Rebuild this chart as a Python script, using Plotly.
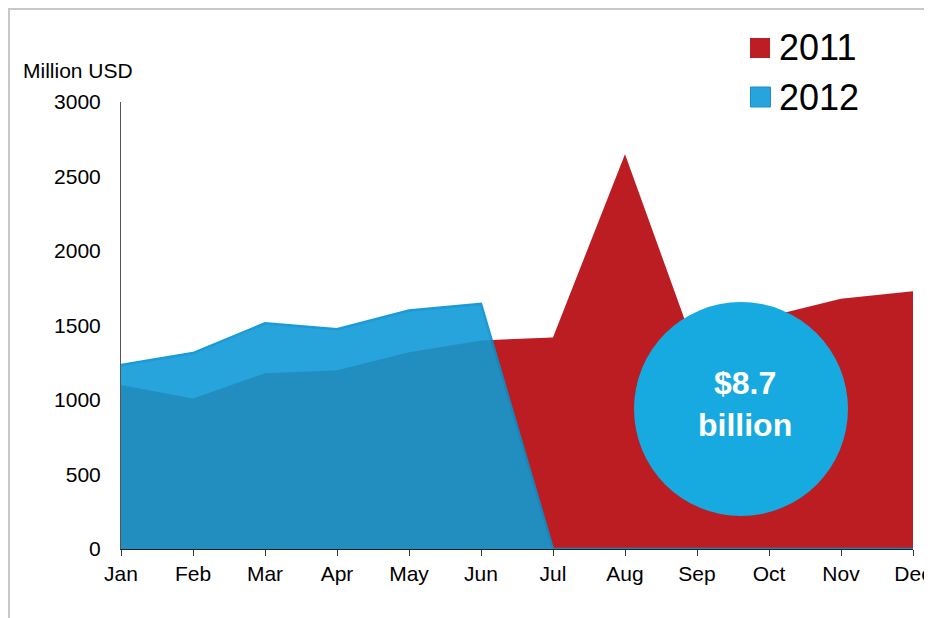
import plotly.graph_objects as go

months = ["Jan", "Feb", "Mar", "Apr", "May", "Jun", "Jul", "Aug", "Sep", "Oct", "Nov", "Dec"]
series_names = ["2011", "2012"]
values_2011 = [1100, 1010, 1180, 1200, 1320, 1400, 1420, 2650, 1310, 1560, 1680, 1730]
values_2012 = [1235, 1315, 1515, 1475, 1600, 1645, 0, 0, 0, 0, 0, 0]
y_ticks = [0, 500, 1000, 1500, 2000, 2500, 3000]
callout_text = "$8.7<br>billion"
y_title = "Million USD"

RED_BASE = "#d72228"      # darkened by overlay to #bb1e23
RED = "#bb1e23"
BLUE = "#28a4dd"
BLUE_LINE = "#1b9ad6"
CIRCLE = "#17aae0"
FONT = "Liberation Sans, Arial, sans-serif"

fig = go.Figure()

# 2011 area
fig.add_trace(go.Scatter(
    x=months, y=values_2011, mode="lines", fill="tozeroy",
    fillcolor=RED_BASE, line=dict(width=0, color=RED_BASE),
    name=series_names[0], showlegend=False, hoverinfo="skip"))

# 2012 area
fig.add_trace(go.Scatter(
    x=months, y=values_2012, mode="lines", fill="tozeroy",
    fillcolor=BLUE, line=dict(width=2.5, color=BLUE_LINE),
    name=series_names[1], showlegend=False, hoverinfo="skip"))

# shading of the 2011 area (darkens overlap with 2012)
fig.add_trace(go.Scatter(
    x=months, y=values_2011, mode="lines", fill="tozeroy",
    fillcolor="rgba(0,0,0,0.13)", line=dict(width=0, color="rgba(0,0,0,0)"),
    showlegend=False, hoverinfo="skip"))

# page body has an 8px margin: design in page pixels, shift by OFF
OFF = 8
W, H = 932 - OFF, 618 - OFF
L = 121 - OFF
T = 102 - OFF
R = W - (913 - OFF)
B = H - (549 - OFF)
PW, PH = W - L - R, H - T - B

def px(x):
    return (x - OFF - L) / PW

def py(y):
    return (H - B - (y - OFF)) / PH

shapes = [
    # outer border
    dict(type="rect", xref="paper", yref="paper",
         x0=px(9), x1=px(929), y0=py(640), y1=py(9),
         line=dict(color="#c8c8c8", width=2), fillcolor="rgba(0,0,0,0)", layer="below"),
    # legend squares
    dict(type="rect", xref="paper", yref="paper",
         x0=px(750), x1=px(770), y0=py(58), y1=py(38),
         line=dict(width=0), fillcolor=RED, layer="above"),
    dict(type="rect", xref="paper", yref="paper",
         x0=px(750.5), x1=px(770.5), y0=py(107), y1=py(87),
         line=dict(width=1, color="#1a8fcc"), fillcolor=BLUE, layer="above"),
    # callout circle
    dict(type="circle", xref="paper", yref="paper",
         xsizemode="pixel", ysizemode="pixel",
         xanchor=px(741), yanchor=py(409),
         x0=-107, x1=107, y0=-107, y1=107,
         line=dict(width=0), fillcolor=CIRCLE, layer="above"),
]

annotations = [
    dict(text=y_title, xref="paper", yref="paper", x=px(21), y=py(70),
         xanchor="left", yanchor="middle", showarrow=False,
         font=dict(family=FONT, size=21, color="#000")),
    dict(text=series_names[0], xref="paper", yref="paper", x=px(777), y=py(48),
         xanchor="left", yanchor="middle", showarrow=False,
         font=dict(family=FONT, size=36, color="#000")),
    dict(text=series_names[1], xref="paper", yref="paper", x=px(777), y=py(97),
         xanchor="left", yanchor="middle", showarrow=False,
         font=dict(family=FONT, size=36, color="#000")),
    dict(text="<b>" + callout_text + "</b>", xref="paper", yref="paper",
         x=px(745), y=py(404), xanchor="center", yanchor="middle", showarrow=False,
         font=dict(family=FONT, size=32, color="#ffffff")),
]

fig.update_layout(
    width=W, height=H,
    margin=dict(l=L, r=R, t=T, b=B, autoexpand=False),
    paper_bgcolor="white", plot_bgcolor="white",
    showlegend=False,
    shapes=shapes, annotations=annotations,
    font=dict(family=FONT, size=21, color="#000"),
)

fig.update_xaxes(
    type="category", range=[0, len(months) - 1],
    showgrid=False, zeroline=False,
    showline=True, linecolor="#222", linewidth=1,
    ticks="outside", ticklen=6, tickcolor="#333", tickwidth=1,
    tickfont=dict(family=FONT, size=21, color="#000"),
)
fig.update_yaxes(
    range=[0, 3000], tickvals=y_ticks,
    showgrid=False, zeroline=False,
    showline=True, linecolor="#555", linewidth=1,
    ticks="", ticklabelstandoff=15,
    tickfont=dict(family=FONT, size=21, color="#000"),
)

fig.write_html("out.html")
